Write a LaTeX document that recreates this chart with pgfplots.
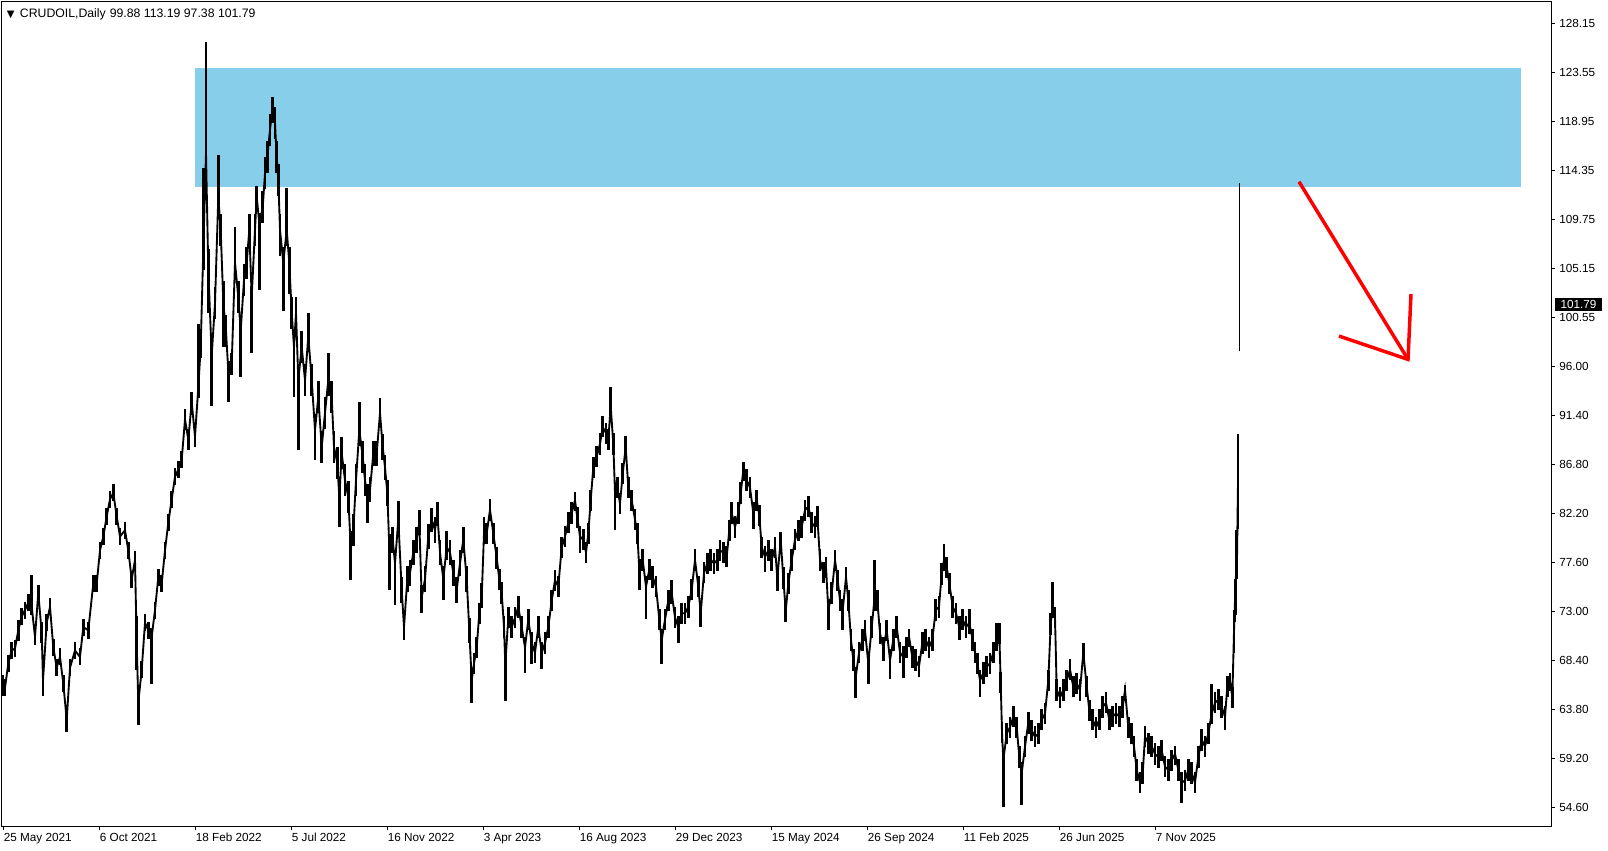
\documentclass[border=0pt]{standalone}
\usepackage{fontspec}
\setmainfont{Liberation Sans}
\newfontfamily\dejavu{DejaVu Sans}
\usepackage{pgfplots}
\usepackage{pgfplotstable}
\pgfplotsset{compat=1.18}
\definecolor{zone}{RGB}{135,206,235}

% daily CRUDOIL: bar index (px), mid price, range above / below mid
\pgfplotstableread{
x m ep em
2.7 66.0 1.0 1.0
5 65.8 0.8 0.8
8.3 68.1 0.8 0.8
11.7 69.3 0.8 0.8
15 69.5 0.8 0.8
18.3 71.2 1.0 1.0
21.7 72.5 0.8 0.8
25 73.1 0.8 0.8
28.3 73.8 0.8 0.8
31.7 73.4 3.0 0.8
35 70.6 0.8 0.8
38.3 74.7 0.8 0.8
41.7 71.0 1.0 1.0
43 66.5 0.8 1.5
46.7 71.9 0.8 0.8
50 73.4 0.8 0.8
53.3 69.6 0.8 0.8
56.7 67.7 0.8 0.8
60 68.7 0.8 0.8
63.3 66.2 0.8 0.8
66.7 62.8 0.8 1.1
70 67.7 0.8 0.8
75 69.3 0.8 0.8
80 68.7 0.8 0.8
83.3 71.5 0.8 0.8
88.3 71.2 0.8 0.8
93.3 75.6 0.8 0.8
96.7 75.6 0.8 0.8
100 78.7 0.8 0.8
103.3 80.0 0.8 0.8
106.7 81.9 0.8 0.8
110 83.5 0.8 0.8
113.3 84.1 0.8 0.8
116.7 81.9 0.8 0.8
120 80.0 0.8 0.8
125 80.6 0.8 0.8
128.3 78.7 0.8 0.8
131.7 76.0 0.8 0.8
135 77.8 0.8 0.8
136.7 70.0 2.5 2.5
138.3 64.4 0.8 2.1
141.7 67.5 0.8 0.8
145 71.9 0.8 0.8
148.3 71.2 0.8 0.8
151.7 70.6 0.8 4.4
155 73.1 0.8 0.8
158.3 76.2 0.8 0.8
161.7 75.6 0.8 0.8
165 78.7 0.8 0.8
168.3 81.3 0.8 0.8
171.7 83.5 0.8 0.8
175 85.6 0.8 0.8
178.3 86.3 0.8 0.8
181.7 87.2 0.8 0.8
185 91.0 1.0 1.0
188.3 89.1 1.0 1.0
191.7 92.6 1.0 1.0
195 89.4 1.0 1.0
198.3 94.0 6.0 1.0
200.7 97.8 1.0 1.0
203.3 107.0 7.6 2.0
206 116.0 10.4 3.0
208.3 105.0 2.0 4.0
211.7 97.0 2.0 4.7
215 101.9 1.5 1.5
218.3 111.9 3.9 2.0
220.7 108.8 1.5 1.5
223.3 102.0 2.0 4.2
226 99.3 1.5 1.5
228.3 95.5 1.0 2.9
231.7 96.2 1.0 1.0
235 105.7 3.4 1.5
238.3 102.5 1.5 1.5
240.7 99.3 1.0 4.3
244 104.1 1.5 1.5
246.7 105.7 1.5 1.5
249.3 108.8 1.5 1.5
251.7 102.5 1.0 5.3
255 108.8 1.5 1.5
256.7 111.9 1.0 1.0
259.3 109.4 1.0 6.3
262.7 110.9 1.5 1.5
265 114.1 1.5 1.5
267.3 115.6 1.5 1.5
270 118.2 1.5 1.5
272.7 120.3 1.0 1.5
275 118.8 1.5 1.5
276.7 115.6 1.5 1.5
278.3 113.5 1.5 1.5
280 108.8 1.5 2.5
283.3 105.7 1.5 4.5
286.7 108.8 3.9 1.5
289.3 105.7 1.5 2.9
291.7 101.0 1.5 1.5
294 97.8 1.5 4.7
296 101.0 1.5 1.5
298.3 94.7 1.5 6.6
301.7 97.8 1.5 1.5
305 94.7 1.5 1.5
308.3 98.8 2.2 1.5
311.7 94.7 1.5 1.5
315 90.0 1.5 2.8
318.3 93.1 1.5 1.5
321.7 88.4 1.5 1.5
325 91.6 1.5 1.5
328.3 94.7 2.5 1.5
331.7 93.1 1.5 1.5
334 88.4 1.5 1.5
337.3 86.9 1.5 1.5
339.3 83.7 1.5 2.8
341.7 87.8 1.5 1.5
345 85.3 1.5 1.5
348.3 83.7 1.5 1.5
350.7 79.0 1.5 3.1
353.3 80.6 1.5 1.5
356 85.3 1.5 1.5
359.3 90.0 2.6 1.5
362.7 87.5 1.5 1.5
365 85.3 1.5 1.5
367.3 83.7 1.2 2.4
370 84.4 1.2 1.2
373.3 87.8 1.2 1.2
376.7 87.8 1.2 1.2
380 91.6 1.4 1.2
382.7 88.4 1.2 1.2
385 86.5 1.2 1.2
387.3 84.1 1.2 1.2
389.3 79.0 1.2 4.0
392.7 79.7 1.2 1.2
395 77.5 1.2 3.9
398.3 81.6 1.7 1.2
401.7 75.0 1.2 1.2
404 71.5 1.2 1.2
407.3 76.0 1.2 1.2
410 76.6 1.2 1.2
413.3 78.5 1.2 1.2
416.7 79.7 1.2 1.2
419.3 81.3 1.2 1.2
421.7 74.3 1.2 1.5
425 76.0 1.2 1.2
428.3 80.0 1.2 1.2
431.7 81.6 1.1 1.2
435 80.6 1.2 1.2
437.3 82.2 1.0 1.2
440 78.5 1.2 1.2
443.3 76.0 1.2 2.0
446.7 79.0 1.5 1.2
450 78.5 1.2 1.2
453.3 76.6 1.2 1.2
456.7 75.0 1.2 1.2
460 77.5 1.2 1.2
463.3 79.7 1.2 1.2
466.7 76.0 1.2 1.2
469.3 71.2 1.2 1.2
471.7 66.5 1.2 2.1
474 68.1 1.0 1.0
476.7 69.6 1.0 1.0
479.3 72.8 1.0 1.0
481.7 74.3 1.3 1.0
484 80.3 1.5 1.0
486.7 80.3 1.0 1.0
490 82.5 1.0 1.0
493.3 80.3 1.0 1.0
496.7 78.0 1.0 1.0
499.3 76.0 1.0 1.0
501.7 74.7 1.0 1.0
504 71.5 1.0 1.0
505.3 68.0 1.0 3.4
508.3 72.4 1.0 1.0
511.7 71.5 1.0 1.0
515 72.4 1.0 1.0
518.3 73.4 1.0 1.0
521.7 71.5 1.0 1.0
525 69.6 1.0 2.4
528.3 72.2 1.0 1.0
531.7 70.0 1.0 2.0
535 69.1 1.0 1.0
538.3 71.5 1.0 1.0
541.7 69.1 1.0 1.5
545 70.0 1.0 1.0
548.3 71.5 1.0 1.0
551.7 74.0 1.0 1.0
555 75.9 1.0 1.0
558.3 75.3 1.0 1.0
561.7 79.0 1.0 1.0
565 80.0 1.0 1.0
568.3 81.3 1.0 1.0
571.7 82.2 1.0 1.0
575 83.4 0.8 1.0
577.3 81.8 1.0 1.0
580 80.0 1.0 1.5
583.3 79.7 1.0 1.0
586 78.5 1.0 1.0
588.3 80.3 1.0 1.0
590.7 83.4 1.0 1.0
593.3 86.5 1.0 1.0
596.7 87.5 1.0 1.0
600 88.7 1.0 1.0
602.7 90.3 1.0 1.0
606 89.7 1.0 1.0
608.3 89.1 1.0 1.0
610.7 92.2 1.8 1.0
613.3 88.7 1.0 1.0
615 84.1 1.0 3.5
617.3 84.6 1.0 1.0
620 83.1 1.0 1.0
622.7 85.9 1.0 1.0
625.7 88.4 1.0 1.0
628.3 84.6 1.0 1.0
631.7 83.4 1.0 1.0
635 81.6 1.0 1.0
637.3 80.3 1.0 1.0
639.3 76.9 1.0 1.9
642.7 77.8 1.0 1.0
646 75.3 1.0 3.0
649.3 76.9 1.0 1.0
652.7 76.2 1.0 1.0
656 75.3 1.0 1.0
659.3 72.2 1.0 1.0
661.7 70.3 1.0 2.3
665 72.2 1.0 1.0
668.3 74.0 1.0 1.0
671.7 74.7 1.2 1.0
675 72.4 1.0 1.0
678.3 71.5 1.0 1.5
681.7 72.8 1.0 1.0
685 72.8 1.0 1.0
688.3 73.4 1.0 1.0
691.7 75.0 1.0 1.0
695 77.8 1.0 1.0
698.3 75.3 1.0 1.0
700.7 72.8 1.0 1.3
704 76.6 1.0 1.0
707.3 77.5 1.0 1.0
710.7 77.8 1.0 1.0
714 77.5 1.0 1.0
717.3 77.8 1.0 1.0
720 78.7 1.0 1.0
723.3 78.5 1.0 1.0
726.7 78.1 1.0 1.0
729.3 80.6 1.0 1.0
731.7 82.2 1.0 1.0
735 80.9 1.0 1.0
738.3 82.2 1.0 1.0
740.7 84.1 1.0 1.0
743.3 86.2 0.8 1.0
746.7 85.3 1.0 1.0
750 84.6 1.0 1.0
753.3 82.2 1.0 1.5
756.7 83.4 1.0 1.0
759.3 82.0 1.0 1.0
761.7 79.0 1.0 1.0
765 78.1 1.0 1.4
768.3 78.7 1.0 1.0
771.7 77.8 1.0 1.0
775 79.0 1.0 1.0
777.3 76.1 1.0 1.2
780.7 79.7 0.7 1.0
783.3 76.1 1.0 1.0
785.7 73.0 1.0 1.0
788.3 75.6 1.0 1.0
791.7 77.8 1.0 1.0
795 79.7 1.0 1.0
798.3 80.6 1.0 1.0
801.7 80.9 1.0 1.0
805 82.5 0.9 1.0
808.3 82.8 1.0 1.0
811.7 81.3 1.0 1.0
815 80.9 1.0 1.0
817.3 81.9 1.0 1.0
820 77.8 1.0 1.0
823.3 76.6 1.0 1.0
826 77.1 1.0 1.0
828.3 73.1 1.0 1.9
831.7 74.7 1.0 1.0
835 77.8 0.9 1.0
837.7 75.9 1.0 1.0
840 74.0 1.0 1.0
842.7 73.1 1.0 1.9
846 76.2 0.9 1.0
848.3 74.0 1.0 1.0
851 70.3 1.0 1.0
853.3 68.4 1.0 1.0
855.7 66.8 1.0 2.0
859 69.1 1.0 1.0
862.3 70.3 1.0 1.0
865 71.2 1.0 1.0
868.3 68.1 1.0 1.9
871.7 71.5 1.0 1.0
874.3 74.0 3.8 1.0
877.3 74.0 1.0 1.0
880 70.9 1.0 1.0
883.3 69.6 1.0 1.3
886.7 71.2 1.0 1.0
890 68.4 1.0 1.8
893.3 70.3 1.0 1.0
896.7 71.5 1.0 1.0
900 69.1 1.0 1.0
903.3 68.7 1.0 2.0
906.7 69.6 1.0 1.0
909 70.6 0.7 1.0
912.3 68.7 1.0 1.0
915.7 68.4 1.0 1.0
919 67.8 1.0 1.0
922.3 70.0 1.0 1.0
925.7 70.3 1.0 1.0
929 69.6 1.0 1.0
932.3 70.3 1.0 1.0
935.7 73.1 1.0 1.0
939 73.4 1.0 1.0
941.7 76.5 1.0 1.0
944 77.8 1.5 1.0
946.7 77.1 1.0 1.0
949.3 75.6 1.0 1.0
952.7 73.4 1.0 1.0
956 72.8 1.0 1.0
959.3 71.5 1.0 1.2
962.7 72.2 1.0 1.0
966 71.5 1.0 1.0
969.3 71.9 1.3 1.0
972.7 70.3 1.0 1.0
975 69.1 1.0 1.0
977.3 68.1 1.0 1.0
980 66.5 1.0 1.6
983.3 67.2 1.0 1.0
986.7 67.8 1.0 1.0
990 68.1 1.0 1.0
993.3 69.1 1.0 1.0
996.7 70.3 1.6 1.0
999.3 70.9 1.0 1.0
1000.7 66.3 1.0 1.0
1002 61.6 1.0 1.0
1003.3 59.0 1.0 4.4
1006.7 61.5 1.0 1.0
1010 62.1 1.0 1.0
1013.3 63.1 1.0 1.0
1016.7 62.1 1.0 1.0
1019.3 59.3 1.0 1.0
1021.7 57.8 1.0 3.0
1025 60.3 1.0 1.0
1028.3 62.5 1.0 1.0
1031.7 61.8 1.0 1.0
1035 61.2 1.0 1.0
1038.3 61.5 1.0 1.0
1041.7 62.8 1.0 1.0
1045 63.4 1.0 1.0
1048.3 66.5 1.0 1.0
1050.7 71.8 1.0 1.0
1052.7 73.4 2.3 1.0
1055 72.4 1.0 1.0
1056.7 65.6 1.0 1.0
1060 64.9 1.0 1.0
1063.3 65.6 1.0 1.0
1066.7 66.5 1.0 1.0
1070 67.5 1.0 1.0
1073.3 65.9 1.0 1.0
1076.7 66.2 1.0 1.0
1080 65.6 1.0 1.0
1083.3 69.1 0.9 1.0
1086.7 65.9 1.0 1.0
1089.3 63.7 1.0 1.0
1092.7 62.8 1.0 1.0
1096 62.1 1.0 1.0
1099.3 62.8 1.0 1.0
1102.7 64.0 1.0 1.0
1106 64.4 1.0 1.0
1109.3 62.8 1.0 1.0
1112.7 63.1 1.0 1.0
1116 63.4 1.0 1.0
1119.3 63.1 1.0 1.0
1122.7 64.0 1.0 1.0
1125 65.6 0.5 1.0
1128.3 62.1 1.0 1.0
1131.7 61.5 1.0 1.0
1134 60.3 1.0 1.0
1136.7 58.1 1.0 1.0
1140 56.9 1.0 1.0
1142.7 57.8 1.0 1.0
1145 61.2 1.0 1.0
1148.3 60.6 1.0 1.0
1151.7 60.3 1.0 1.0
1155 59.6 1.0 1.0
1158.3 59.3 1.0 1.0
1161.7 59.9 1.0 1.0
1165 58.4 1.0 1.0
1168.3 58.1 1.0 1.0
1171.7 59.0 1.0 1.0
1175 59.6 0.7 1.0
1178.3 58.1 1.0 1.0
1181.7 56.9 1.0 1.9
1185 57.1 1.0 1.0
1188.3 58.1 1.0 1.0
1191.7 57.8 1.0 1.0
1195 56.9 1.0 1.0
1198.3 59.3 1.0 1.0
1201.7 60.9 1.0 1.0
1205 60.3 1.0 1.0
1208.3 61.5 1.0 1.0
1211.7 63.4 2.8 1.0
1215 64.4 1.0 1.0
1218.3 64.7 1.0 1.0
1221.7 64.0 1.0 1.0
1225 63.1 1.0 1.3
1227.3 65.9 1.0 1.0
1230 66.5 0.7 1.0
1232.3 64.9 1.0 1.0
1234 71.1 2.0 2.0
1235 74.0 2.0 2.0
1236 76.5 4.1 3.9
1237 78.0 2.6 2.0
1238 85.15 4.45 4.45
}\crude

\begin{document}
\begin{tikzpicture}
\useasboundingbox (0,0) rectangle (1206pt,637.5pt);
\begin{axis}[
  at={(1.5pt,18pt)}, anchor=south west,
  scale only axis, width=1161.75pt, height=618pt,
  xmin=2, xmax=1551, ymin=52.83, ymax=130.18,
  clip=false,
  axis line style={black, line width=0.75pt},
  tick style={black, line width=0.75pt},
  tick align=outside, major tick length=3pt,
  xtick pos=left, ytick pos=right, yticklabel pos=right,
  font=\fontsize{8.8}{10}\selectfont,
  xtick={3.6,99.6,195.6,291.6,387.6,483.6,579.6,675.6,771.6,867.6,963.6,1059.6,1155.6},
  xticklabels={25 May 2021,6 Oct 2021,18 Feb 2022,5 Jul 2022,16 Nov 2022,3 Apr 2023,16 Aug 2023,29 Dec 2023,15 May 2024,26 Sep 2024,11 Feb 2025,26 Jun 2025,7 Nov 2025},
  ytick={54.60,59.20,63.80,68.40,73.00,77.60,82.20,86.80,91.40,96.00,100.55,105.15,109.75,114.35,118.95,123.55,128.15},
  yticklabels={54.60,59.20,63.80,68.40,73.00,77.60,82.20,86.80,91.40,96.00,100.55,105.15,109.75,114.35,118.95,123.55,128.15},
  xticklabel style={anchor=north west, inner sep=0pt, yshift=-2pt},
  yticklabel style={anchor=west, inner sep=0pt, xshift=3pt},
]

% supply zone
\addplot[draw=none, fill=zone, mark=none] coordinates {(195,112.84) (1521,112.84) (1521,124.0) (195,124.0)};

% price bars
\addplot[black, line width=1.4pt, mark=none,
  error bars/.cd, y dir=both, y explicit, error mark=none,
  error bar style={line width=2pt}]
  table[x=x, y=m, y error plus=ep, y error minus=em] {\crude};
\addplot[black, line width=0.75pt, mark=none] coordinates {(1239,97.38) (1239,113.19)};

% red arrow
\addplot[red, line width=2.6pt, mark=none] coordinates {(1299,113.31) (1408,96.63)};
\addplot[red, line width=2.6pt, mark=none, line join=miter] coordinates {(1339,98.82) (1408,96.63) (1411,102.76)};

% header and last price
\node[anchor=north west, inner sep=0pt] at ([xshift=3.5pt, yshift=-4.5pt] axis description cs:0,1)
  {\fontsize{9.2}{10}\selectfont{\dejavu\fontsize{7.5}{7.5}\selectfont ▼}\hspace{4pt}CRUDOIL,Daily\hspace{3pt}99.88 113.19 97.38 101.79};
\node[anchor=west, fill=black, text=white, inner xsep=4pt, inner ysep=0pt, minimum height=10.2pt]
  at ([xshift=3pt] axis cs:1551,101.79) {101.79};
\end{axis}
\end{tikzpicture}
\end{document}
